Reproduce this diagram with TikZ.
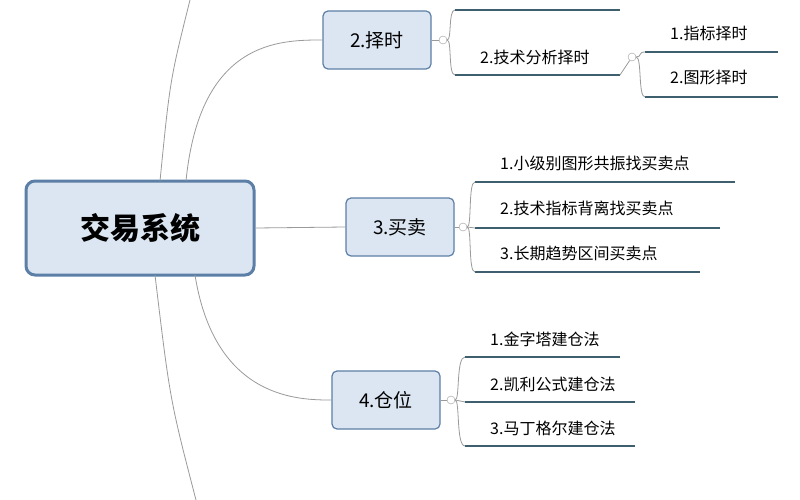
\documentclass[tikz,border=0pt]{standalone}
\usepackage{fontspec}
\setmainfont{Noto Sans CJK SC}
\usetikzlibrary{positioning}
\definecolor{boxfill}{HTML}{DCE6F2}
\definecolor{boxline}{HTML}{5B7FA6}
\definecolor{uline}{HTML}{3D5F6E}
\definecolor{branch}{HTML}{9A9A9A}

\begin{document}
\begin{tikzpicture}[x=1pt,y=-1pt,
  topic/.style={draw=boxline,fill=boxfill,rounded corners=5pt,line width=1.2pt,font=\fontsize{19}{19}\selectfont,minimum width=108pt,minimum height=58pt},
  root/.style={draw=boxline,fill=boxfill,rounded corners=9pt,line width=3pt,font=\fontsize{30}{30}\selectfont\bfseries,minimum width=228pt,minimum height=94pt},
  leaf/.style={font=\fontsize{16}{16}\selectfont,anchor=west,inner sep=0pt},
  under/.style={draw=uline,line width=2.6pt},
  link/.style={draw=branch,line width=0.8pt},
  fold/.style={circle,draw=branch,fill=white,inner sep=0pt,minimum size=8pt}]
\useasboundingbox[fill=white] (0,0) rectangle (800,500);

% Root and topics
\node[root] (sys) at (140,228) {交易系统};
\node[topic] (time) at (377,40) {2.择时};
\node[topic] (trade) at (400,227) {3.买卖};
\node[topic] (pos) at (386,400) {4.仓位};

% Branches from root
\coordinate (up1) at (190,0);
\coordinate (dn1) at (196,500);
\draw[link] (160,181) .. controls (170,80) .. (up1);
\draw[link] (186,181) .. controls (200,40) and (280,40) .. (time.west);
\draw[link] (sys.east) -- (trade.west);
\draw[link] (155,275) .. controls (170,400) .. (dn1);
\draw[link] (195,275) .. controls (215,400) and (300,400) .. (pos.west);

% Fold marks
\node[fold] (ft) at (443,40) {};
\node[fold] (fb) at (463,227) {};
\node[fold] (fp) at (451,400) {};
\node[fold] (fa) at (632,57) {};
\draw[link] (time.east) -- (ft);
\draw[link] (trade.east) -- (fb);
\draw[link] (pos.east) -- (fp);

% 2.择时 children
\coordinate (t0a) at (455,10); \coordinate (t0b) at (620,10);
\draw[under] (t0a) -- (t0b);
\node[leaf] (tech) at (480,57) {2.技术分析择时};
\coordinate (t1a) at (455,75); \coordinate (t1b) at (620,75);
\draw[under] (t1a) -- (t1b);
\draw[link] (ft.east) .. controls (452,40) and (448,10) .. (t0a);
\draw[link] (ft.east) .. controls (452,40) and (448,75) .. (t1a);
\draw[link] (t1b) -- (fa);

% 技术分析择时 children
\node[leaf] (ind) at (670,33) {1.指标择时};
\node[leaf] (pat) at (670,77) {2.图形择时};
\coordinate (a1a) at (645,52); \coordinate (a1b) at (778,52);
\coordinate (a2a) at (645,97); \coordinate (a2b) at (778,97);
\draw[under] (a1a) -- (a1b);
\draw[under] (a2a) -- (a2b);
\draw[link] (fa.east) .. controls (642,57) and (638,52) .. (a1a);
\draw[link] (fa.east) .. controls (642,57) and (638,97) .. (a2a);

% 3.买卖 children
\node[leaf] (b1) at (500,163) {1.小级别图形共振找买卖点};
\node[leaf] (b2) at (500,208) {2.技术指标背离找买卖点};
\node[leaf] (b3) at (500,253) {3.长期趋势区间买卖点};
\coordinate (b1a) at (475,182); \coordinate (b1b) at (735,182);
\coordinate (b2a) at (475,228); \coordinate (b2b) at (720,228);
\coordinate (b3a) at (475,272); \coordinate (b3b) at (700,272);
\draw[under] (b1a) -- (b1b);
\draw[under] (b2a) -- (b2b);
\draw[under] (b3a) -- (b3b);
\draw[link] (fb.east) .. controls (472,227) and (468,182) .. (b1a);
\draw[link] (fb.east) -- (b2a);
\draw[link] (fb.east) .. controls (472,227) and (468,272) .. (b3a);

% 4.仓位 children
\node[leaf] (p1) at (490,339) {1.金字塔建仓法};
\node[leaf] (p2) at (490,384) {2.凯利公式建仓法};
\node[leaf] (p3) at (490,428) {3.马丁格尔建仓法};
\coordinate (p1a) at (465,357); \coordinate (p1b) at (620,357);
\coordinate (p2a) at (465,402); \coordinate (p2b) at (635,402);
\coordinate (p3a) at (465,446); \coordinate (p3b) at (635,446);
\draw[under] (p1a) -- (p1b);
\draw[under] (p2a) -- (p2b);
\draw[under] (p3a) -- (p3b);
\draw[link] (fp.east) .. controls (460,400) and (456,357) .. (p1a);
\draw[link] (fp.east) -- (p2a);
\draw[link] (fp.east) .. controls (460,400) and (456,446) .. (p3a);
\end{tikzpicture}
\end{document}
